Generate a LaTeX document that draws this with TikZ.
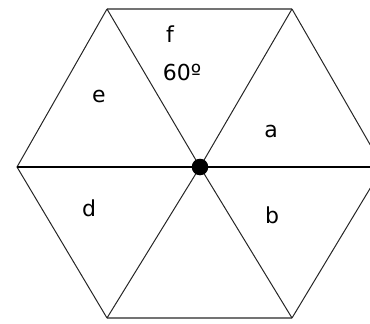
\documentclass[tikz,border=0pt]{standalone}
\usepackage{fontspec}
\setmainfont{DejaVu Sans}
\begin{document}
\begin{tikzpicture}[x=1pt,y=-1pt,
  edge/.style={line width=1pt,black!85},
  rim/.style={line width=1.6pt,black!55},
  lbl/.style={font=\fontsize{22}{24}\selectfont,inner sep=0pt}]
\useasboundingbox (0,0) rectangle (370,324);
\clip (0,0) rectangle (370,324);
\coordinate (O) at (200,167);
\coordinate (TL) at (107,9);
\coordinate (TR) at (292,9);
\coordinate (L) at (17,167);
\coordinate (R) at (383,167);
\coordinate (BL) at (107,318);
\coordinate (BR) at (292,318);
\draw[rim] (TL) -- (TR);
\draw[rim] (BL) -- (BR);
\draw[edge] (TL) -- (L) -- (BL);
\draw[edge] (TR) -- (R) -- (BR);
\draw[edge] (TL) -- (O) -- (BR);
\draw[edge] (TR) -- (O) -- (BL);
\draw[line width=1.4pt] (L) -- (R);
\fill (O) circle (8.3);
\node[lbl] (f) at (170,34) {f};
\node[lbl] (ang) at (182,72) {60º};
\node[lbl] (e) at (99,96) {e};
\node[lbl] (a) at (271,131) {a};
\node[lbl] (d) at (89,208) {d};
\node[lbl] (b) at (272,215) {b};
\end{tikzpicture}
\end{document}
